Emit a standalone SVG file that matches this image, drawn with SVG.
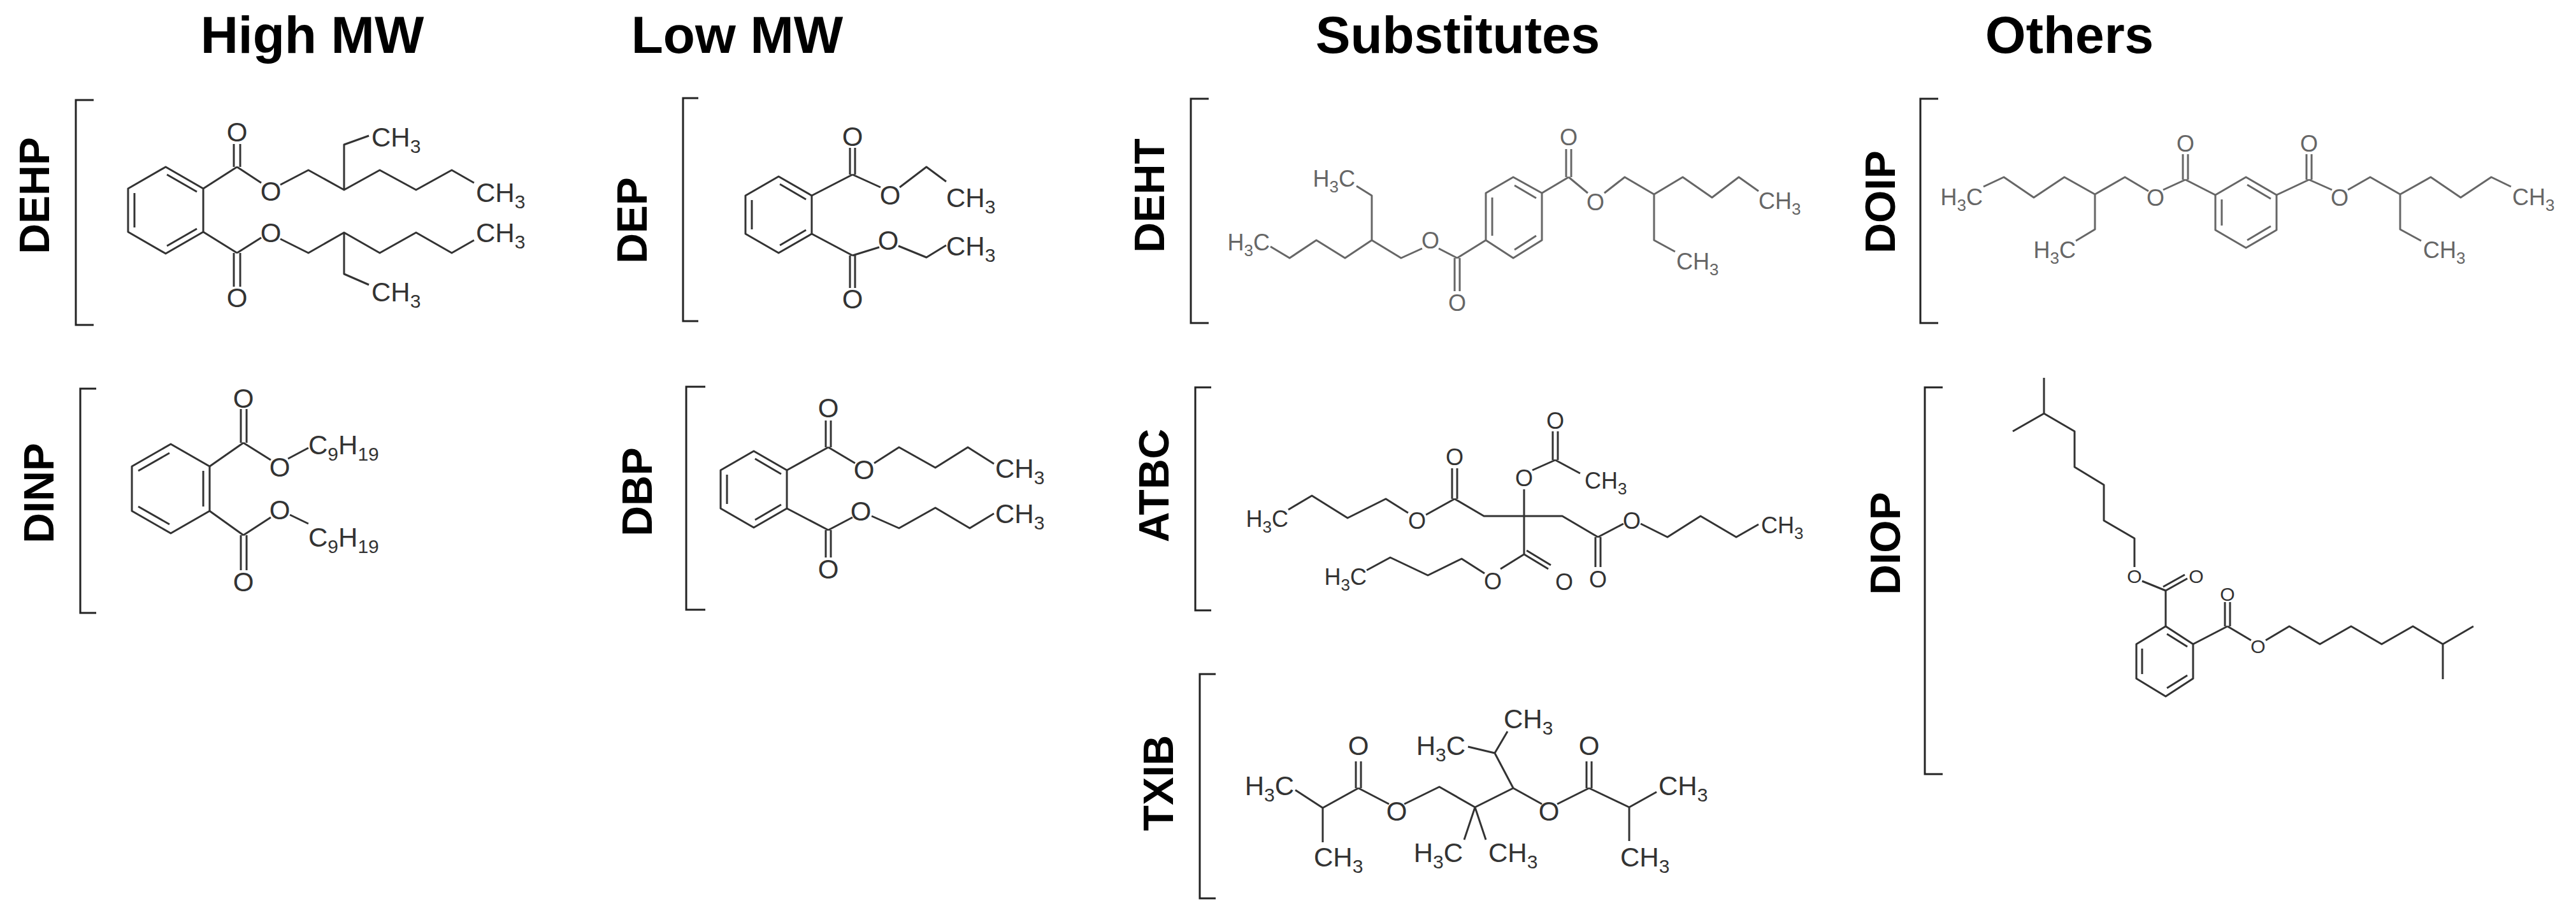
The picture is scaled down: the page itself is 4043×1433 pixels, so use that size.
<svg xmlns="http://www.w3.org/2000/svg" width="4043" height="1433" viewBox="0 0 4043 1433">
<style>
.h{font-family:"Liberation Sans",Arial,sans-serif;font-weight:bold;font-size:82px;text-anchor:middle;fill:#000}
.n{font-family:"Liberation Sans",Arial,sans-serif;font-weight:bold;font-size:66px;text-anchor:middle;fill:#000}
.br{fill:none;stroke:#222;stroke-width:3}
.b{fill:none;stroke:#333;stroke-width:3;stroke-linejoin:round}
.g{fill:none;stroke:#666;stroke-width:3;stroke-linejoin:round}
.t{font-family:"Liberation Sans",Arial,sans-serif;font-size:42px;fill:#333}
.tg{font-family:"Liberation Sans",Arial,sans-serif;font-size:36px;fill:#666}
.ts{font-family:"Liberation Sans",Arial,sans-serif;font-size:30px;fill:#333}
.m{text-anchor:middle}
.e{text-anchor:end}
</style>
<g id="headings">
<text class="h" x="490" y="83">High MW</text>
<text class="h" x="1157" y="83">Low MW</text>
<text class="h" x="2288" y="83">Substitutes</text>
<text class="h" x="3248" y="83">Others</text>
</g>
<g id="DEHP">
<text class="n" transform="translate(77,307) rotate(-90)">DEHP</text>
<path class="br" d="M147,157 H119 V510 H147"/>
<path class="b" d="M260,262 L319,296 L319,364 L260,398 L201,364 L201,296 Z M211,303 V357 M262,274 L309,301 M309,359 L262,386"/>
<path class="b" d="M319,296 L372,262 M367,262 V226 M377,262 V226 M372,262 L410,287 M440,290 L484,267 L540,298 L596,267 L653,298 L709,267 L744,287 M540,298 V227 L579,213"/>
<path class="b" d="M319,364 L372,397 M367,397 V450 M377,397 V450 M372,397 L410,373 M440,375 L484,397 L540,365 L596,397 L653,365 L709,397 L744,377 M540,365 V430 L579,447"/>
<text class="t m" x="372" y="222">O</text><text class="t m" x="425" y="315">O</text>
<text class="t m" x="372" y="482">O</text><text class="t m" x="425" y="380">O</text>
<text class="t" x="583" y="230">CH<tspan font-size="30" dy="10">3</tspan></text>
<text class="t" x="747" y="317">CH<tspan font-size="30" dy="10">3</tspan></text>
<text class="t" x="747" y="380">CH<tspan font-size="30" dy="10">3</tspan></text>
<text class="t" x="583" y="473">CH<tspan font-size="30" dy="10">3</tspan></text>
</g>
<g id="DINP">
<text class="n" transform="translate(84,774) rotate(-90)">DINP</text>
<path class="br" d="M151,610 H126 V962 H151"/>
<path class="b" d="M268,697 L329,732 L329,802 L268,837 L207,802 L207,732 Z M217,739 L266,711 M217,795 L266,823 M319,739 V795"/>
<path class="b" d="M329,732 L382,695 M378,695 V642 M387,695 V642 M382,695 L425,722 M452,720 L484,703 M329,802 L382,840 M378,840 V895 M387,840 V895 M382,840 L425,812 M455,808 L484,822"/>
<text class="t m" x="382" y="640">O</text><text class="t m" x="439" y="748">O</text>
<text class="t m" x="382" y="928">O</text><text class="t m" x="439" y="815">O</text>
<text class="t" x="484" y="713">C<tspan font-size="30" dy="10">9</tspan><tspan dy="-10">H</tspan><tspan font-size="30" dy="10">19</tspan></text>
<text class="t" x="484" y="858">C<tspan font-size="30" dy="10">9</tspan><tspan dy="-10">H</tspan><tspan font-size="30" dy="10">19</tspan></text>
</g>
<g id="DEP">
<text class="n" transform="translate(1015,346) rotate(-90)">DEP</text>
<path class="br" d="M1096,154 H1072 V504 H1096"/>
<path class="b" d="M1222,277 L1274,307 L1274,367 L1222,397 L1170,367 L1170,307 Z M1180,314 V360 M1224,289 L1265,313 M1265,361 L1224,385"/>
<path class="b" d="M1274,307 L1338,274 M1334,274 V232 M1342,274 V232 M1338,274 L1382,294 M1412,294 L1454,262 L1485,285 M1274,367 L1338,401 M1334,401 V452 M1342,401 V452 M1338,401 L1380,388 M1410,386 L1454,404 L1485,385"/>
<text class="t m" x="1338" y="229">O</text><text class="t m" x="1397" y="321">O</text>
<text class="t m" x="1338" y="484">O</text><text class="t m" x="1394" y="392">O</text>
<text class="t" x="1485" y="325">CH<tspan font-size="30" dy="10">3</tspan></text>
<text class="t" x="1485" y="401">CH<tspan font-size="30" dy="10">3</tspan></text>
</g>
<g id="DBP">
<text class="n" transform="translate(1023,772) rotate(-90)">DBP</text>
<path class="br" d="M1107,607 H1077 V957 H1107"/>
<path class="b" d="M1183,708 L1235,738 L1235,798 L1183,828 L1131,798 L1131,738 Z M1141,745 V791 M1185,720 L1226,744 M1226,792 L1185,816"/>
<path class="b" d="M1235,738 L1300,702 M1296,702 V660 M1304,702 V660 M1300,702 L1342,727 M1372,727 L1411,702 L1468,734 L1519,702 L1560,728 M1235,798 L1300,832 M1296,832 V875 M1304,832 V875 M1300,832 L1338,812 M1368,810 L1411,829 L1468,797 L1522,829 L1560,806"/>
<text class="t m" x="1300" y="655">O</text><text class="t m" x="1356" y="752">O</text>
<text class="t m" x="1300" y="908">O</text><text class="t m" x="1351" y="817">O</text>
<text class="t" x="1562" y="750">CH<tspan font-size="30" dy="10">3</tspan></text>
<text class="t" x="1562" y="821">CH<tspan font-size="30" dy="10">3</tspan></text>
</g>
<g id="DEHT">
<text class="n" transform="translate(1827,307) rotate(-90)">DEHT</text>
<path class="br" d="M1897,155 H1869 V507 H1897"/>
<path class="g" d="M2375,278 L2420,303 L2420,377 L2375,405 L2332,377 L2332,303 Z M2342,310 V370 M2377,291 L2411,311 M2411,370 L2377,392"/>
<path class="g" d="M2420,303 L2462,278 M2458,278 V234 M2466,278 V234 M2462,278 L2492,303 M2518,303 L2550,278 L2596,305 L2641,278 L2687,310 L2729,278 L2760,300 M2596,305 V377 L2629,395"/>
<path class="g" d="M2332,377 L2287,405 M2283,405 V457 M2291,405 V457 M2287,405 L2258,390 M2232,390 L2199,405 L2153,377 L2111,405 L2066,377 L2024,405 L1994,387 M2153,377 V307 L2129,292"/>
<text class="tg m" x="2462" y="228">O</text><text class="tg m" x="2504" y="330">O</text>
<text class="tg m" x="2287" y="488">O</text><text class="tg m" x="2245" y="390">O</text>
<text class="tg" x="2760" y="328">CH<tspan font-size="26" dy="9">3</tspan></text>
<text class="tg" x="2631" y="423">CH<tspan font-size="26" dy="9">3</tspan></text>
<text class="tg e" x="2127" y="293">H<tspan font-size="26" dy="9">3</tspan><tspan dy="-9">C</tspan></text>
<text class="tg e" x="1993" y="393">H<tspan font-size="26" dy="9">3</tspan><tspan dy="-9">C</tspan></text>
</g>
<g id="ATBC">
<text class="n" transform="translate(1834,762) rotate(-90)">ATBC</text>
<path class="br" d="M1901,608 H1876 V958 H1901"/>
<path class="b" d="M2392,810 V768 M2405,738 L2441,722 M2437,722 V677 M2445,722 V677 M2441,722 L2480,743"/>
<path class="b" d="M2392,810 L2329,810 L2283,783 M2279,783 V735 M2287,783 V735 M2283,783 L2238,808 M2210,805 L2175,783 L2115,813 L2059,778 L2022,800"/>
<path class="b" d="M2392,810 L2452,810 L2508,843 M2504,843 V890 M2512,843 V890 M2508,843 L2548,822 M2575,822 L2617,843 L2669,810 L2725,843 L2760,823"/>
<path class="b" d="M2392,810 V870 M2392,870 L2430,893 M2396,864 L2434,887 M2392,870 L2355,893 M2330,900 L2294,877 L2241,903 L2182,875 L2145,895"/>
<text class="tg m" x="2392" y="763" style="fill:#333">O</text><text class="tg m" x="2441" y="673" style="fill:#333">O</text>
<text class="tg m" x="2283" y="730" style="fill:#333">O</text><text class="tg m" x="2224" y="830" style="fill:#333">O</text>
<text class="tg m" x="2508" y="922" style="fill:#333">O</text><text class="tg m" x="2561" y="830" style="fill:#333">O</text>
<text class="tg m" x="2455" y="926" style="fill:#333">O</text><text class="tg m" x="2343" y="925" style="fill:#333">O</text>
<text class="tg" x="2487" y="767" style="fill:#333">CH<tspan font-size="26" dy="9">3</tspan></text>
<text class="tg" x="2764" y="837" style="fill:#333">CH<tspan font-size="26" dy="9">3</tspan></text>
<text class="tg e" x="2022" y="827" style="fill:#333">H<tspan font-size="26" dy="9">3</tspan><tspan dy="-9">C</tspan></text>
<text class="tg e" x="2145" y="918" style="fill:#333">H<tspan font-size="26" dy="9">3</tspan><tspan dy="-9">C</tspan></text>
</g>
<g id="TXIB">
<text class="n" transform="translate(1841,1229) rotate(-90)">TXIB</text>
<path class="br" d="M1908,1058 H1883 V1410 H1908"/>
<path class="b" d="M2033,1240 L2076,1268 L2132,1237 M2076,1268 V1322 M2128,1237 V1195 M2136,1237 V1195 M2132,1237 L2180,1262 M2204,1262 L2259,1235 L2315,1267 L2375,1237 M2315,1267 L2298,1318 M2315,1267 L2332,1318 M2375,1237 L2346,1182 L2304,1172 M2346,1182 L2366,1148 M2375,1237 L2420,1262 M2444,1262 L2494,1237 M2490,1237 V1195 M2498,1237 V1195 M2494,1237 L2557,1267 L2600,1243 M2557,1267 V1320"/>
<text class="t m" x="2132" y="1185">O</text><text class="t m" x="2192" y="1288">O</text>
<text class="t m" x="2494" y="1185">O</text><text class="t m" x="2431" y="1288">O</text>
<text class="t e" x="2031" y="1248">H<tspan font-size="30" dy="10">3</tspan><tspan dy="-10">C</tspan></text>
<text class="t" x="2062" y="1360">CH<tspan font-size="30" dy="10">3</tspan></text>
<text class="t e" x="2296" y="1353">H<tspan font-size="30" dy="10">3</tspan><tspan dy="-10">C</tspan></text>
<text class="t" x="2336" y="1353">CH<tspan font-size="30" dy="10">3</tspan></text>
<text class="t e" x="2300" y="1185">H<tspan font-size="30" dy="10">3</tspan><tspan dy="-10">C</tspan></text>
<text class="t" x="2360" y="1143">CH<tspan font-size="30" dy="10">3</tspan></text>
<text class="t" x="2603" y="1248">CH<tspan font-size="30" dy="10">3</tspan></text>
<text class="t" x="2543" y="1360">CH<tspan font-size="30" dy="10">3</tspan></text>
</g>
<g id="DOIP">
<text class="n" transform="translate(2974,317) rotate(-90)">DOIP</text>
<path class="br" d="M3042,155 H3014 V507 H3042"/>
<path class="g" d="M3525,278 L3573,306 L3573,361 L3525,389 L3477,361 L3477,306 Z M3487,313 V354 M3527,290 L3564,312 M3564,355 L3527,377"/>
<path class="g" d="M3477,306 L3430,282 M3426,282 V242 M3434,282 V242 M3430,282 L3395,298 M3372,300 L3335,278 L3288,305 L3240,278 L3192,310 L3145,278 L3113,293 M3288,305 V360 L3258,378"/>
<path class="g" d="M3573,306 L3624,282 M3620,282 V242 M3628,282 V242 M3624,282 L3660,298 M3685,298 L3720,278 L3767,305 L3815,278 L3862,310 L3910,278 L3941,293 M3767,305 V360 L3800,378"/>
<text class="tg m" x="3430" y="238">O</text><text class="tg m" x="3383" y="323">O</text>
<text class="tg m" x="3624" y="238">O</text><text class="tg m" x="3672" y="323">O</text>
<text class="tg e" x="3112" y="322">H<tspan font-size="26" dy="9">3</tspan><tspan dy="-9">C</tspan></text>
<text class="tg e" x="3258" y="405">H<tspan font-size="26" dy="9">3</tspan><tspan dy="-9">C</tspan></text>
<text class="tg" x="3943" y="322">CH<tspan font-size="26" dy="9">3</tspan></text>
<text class="tg" x="3803" y="405">CH<tspan font-size="26" dy="9">3</tspan></text>
</g>
<g id="DIOP">
<text class="n" transform="translate(2982,853) rotate(-90)">DIOP</text>
<path class="br" d="M3049,608 H3021 V1215 H3049"/>
<path class="b" d="M3399,983 L3442,1011 L3442,1065 L3399,1093 L3353,1065 L3353,1011 Z M3362,1018 V1058 M3401,995 L3433,1015 M3433,1060 L3401,1080"/>
<path class="b" d="M3159,677 L3208,649 L3256,677 L3256,733 L3302,761 L3302,817 L3350,845 L3350,890 M3208,649 V593 M3362,912 L3399,927 V983 M3399,927 L3433,908 M3395,921 L3429,902"/>
<path class="b" d="M3442,1011 L3496,983 M3492,983 V945 M3500,983 V945 M3496,983 L3533,1005 M3556,1005 L3593,983 L3641,1011 L3690,983 L3738,1011 L3787,983 L3834,1011 L3882,983 M3834,1011 V1066"/>
<text class="ts m" x="3350" y="915">O</text><text class="ts m" x="3447" y="915">O</text>
<text class="ts m" x="3496" y="943">O</text><text class="ts m" x="3544" y="1025">O</text>
</g>
</svg>
